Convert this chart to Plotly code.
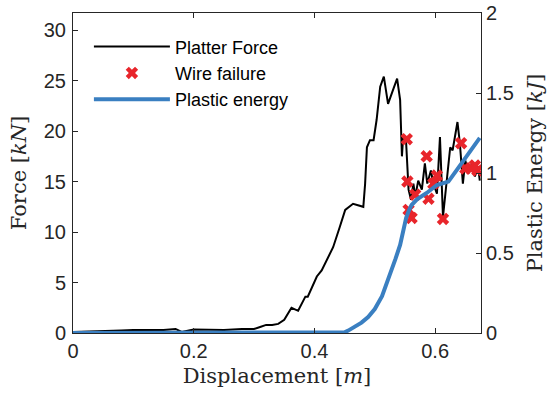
import plotly.graph_objects as go

# Platter force (kN) vs displacement (m)
force_x = [0.0, 0.04, 0.08, 0.10, 0.13, 0.15, 0.17, 0.18, 0.20, 0.25, 0.28, 0.30, 0.31, 0.32, 0.33, 0.34, 0.35,
           0.362, 0.373, 0.385, 0.389, 0.404, 0.412, 0.431, 0.442, 0.451, 0.464, 0.478, 0.481, 0.484, 0.487,
           0.492, 0.498, 0.503, 0.509, 0.515, 0.522, 0.531, 0.537, 0.542, 0.545, 0.547, 0.552, 0.556, 0.560,
           0.564, 0.567, 0.572, 0.578, 0.583, 0.587, 0.593, 0.597, 0.603, 0.608, 0.613, 0.618, 0.625, 0.629,
           0.633, 0.637, 0.641, 0.646, 0.650, 0.655, 0.661, 0.666, 0.671, 0.674]
force_y = [0.1, 0.15, 0.25, 0.3, 0.3, 0.3, 0.4, 0.1, 0.35, 0.3, 0.4, 0.4, 0.6, 0.8, 0.8, 0.9, 1.3,
           2.5, 2.2, 3.6, 3.6, 5.6, 6.2, 8.5, 10.5, 12.2, 12.8, 12.6, 12.5, 14.8, 18.4,
           19.1, 19.1, 21.1, 24.4, 25.4, 22.7, 24.2, 25.2, 23.1, 17.5, 19.4, 18.8, 14.2, 13.2,
           14.8, 13.5, 15.1, 14.2, 16.8, 14.8, 16.1, 14.8, 13.8, 19.4, 11.5, 14.2, 18.4, 18.1,
           19.4, 20.9, 18.8, 14.8, 17.1, 15.8, 16.8, 15.5, 16.5, 15.1]

# Wire failure events (displacement m, force kN)
fail_x = [0.553, 0.554, 0.556, 0.561, 0.567, 0.586, 0.589, 0.597, 0.603, 0.613, 0.643, 0.650, 0.659, 0.666, 0.670]
fail_y = [19.2, 15.0, 12.2, 11.4, 13.7, 17.5, 13.3, 14.8, 15.6, 11.3, 18.8, 16.3, 16.3, 16.6, 16.1]

# Plastic energy (kJ) vs displacement (m)
energy_x = [0.0, 0.445, 0.450, 0.456, 0.467, 0.478, 0.489, 0.500, 0.512, 0.522, 0.534, 0.542, 0.547,
            0.552, 0.557, 0.561, 0.570, 0.586, 0.603, 0.622, 0.636, 0.655, 0.674]
energy_y = [0.0, 0.0, 0.004, 0.015, 0.04, 0.065, 0.10, 0.15, 0.23, 0.33, 0.46, 0.55, 0.64,
            0.72, 0.77, 0.80, 0.835, 0.875, 0.925, 0.946, 1.02, 1.12, 1.22]

axcol = "#262626"
serif = "DejaVu Serif, serif"

fig = go.Figure()
fig.add_trace(go.Scatter(x=force_x, y=force_y, mode="lines", name="Platter Force",
                         line=dict(color="black", width=2)))
fig.add_trace(go.Scatter(x=fail_x, y=fail_y, mode="markers", name="Wire failure",
                         marker=dict(symbol="x", size=11, color="#e8252b", line=dict(width=0))))
fig.add_trace(go.Scatter(x=energy_x, y=energy_y, mode="lines", name="Plastic energy", yaxis="y2",
                         line=dict(color="#3a7fc1", width=4)))

fig.update_layout(
    width=550, height=394,
    margin=dict(l=73, r=69, t=13, b=61, autoexpand=False),
    paper_bgcolor="white", plot_bgcolor="white",
    font=dict(family="Liberation Sans, Arial, sans-serif", size=20, color=axcol),
    showlegend=True,
    legend=dict(x=0.039, y=0.952, xanchor="left", yanchor="top", bgcolor="rgba(0,0,0,0)",
                font=dict(size=18, color="black"), tracegroupgap=0, itemwidth=76),
    xaxis=dict(range=[0, 0.676], tickvals=[0, 0.2, 0.4, 0.6], ticktext=["0", "0.2", "0.4", "0.6"],
               ticks="inside", ticklen=5, tickcolor=axcol, showline=True, linecolor=axcol, linewidth=1,
               mirror="ticks", showgrid=False, zeroline=False, automargin=False,
               title=dict(text="Displacement [<i>m</i>]", font=dict(family=serif, size=21, color=axcol), standoff=7)),
    yaxis=dict(range=[0, 31.7], tickvals=[0, 5, 10, 15, 20, 25, 30],
               ticks="inside", ticklen=5, tickcolor=axcol, showline=True, linecolor=axcol, linewidth=1,
               showgrid=False, zeroline=False, ticklabelstandoff=2, automargin=False,
               title=dict(text="Force [<i>kN</i>]", font=dict(family=serif, size=21, color=axcol), standoff=11)),
    yaxis2=dict(range=[0, 2], tickvals=[0, 0.5, 1, 1.5, 2], ticktext=["0", "0.5", "1", "1.5", "2"],
                overlaying="y", side="right", automargin=False,
                ticks="inside", ticklen=5, tickcolor=axcol, showline=True, linecolor=axcol, linewidth=1,
                showgrid=False, zeroline=False,
                title=dict(text="Plastic Energy [<i>kJ</i>]", font=dict(family=serif, size=21, color=axcol), standoff=14)),
)

fig.write_html("out.html")
